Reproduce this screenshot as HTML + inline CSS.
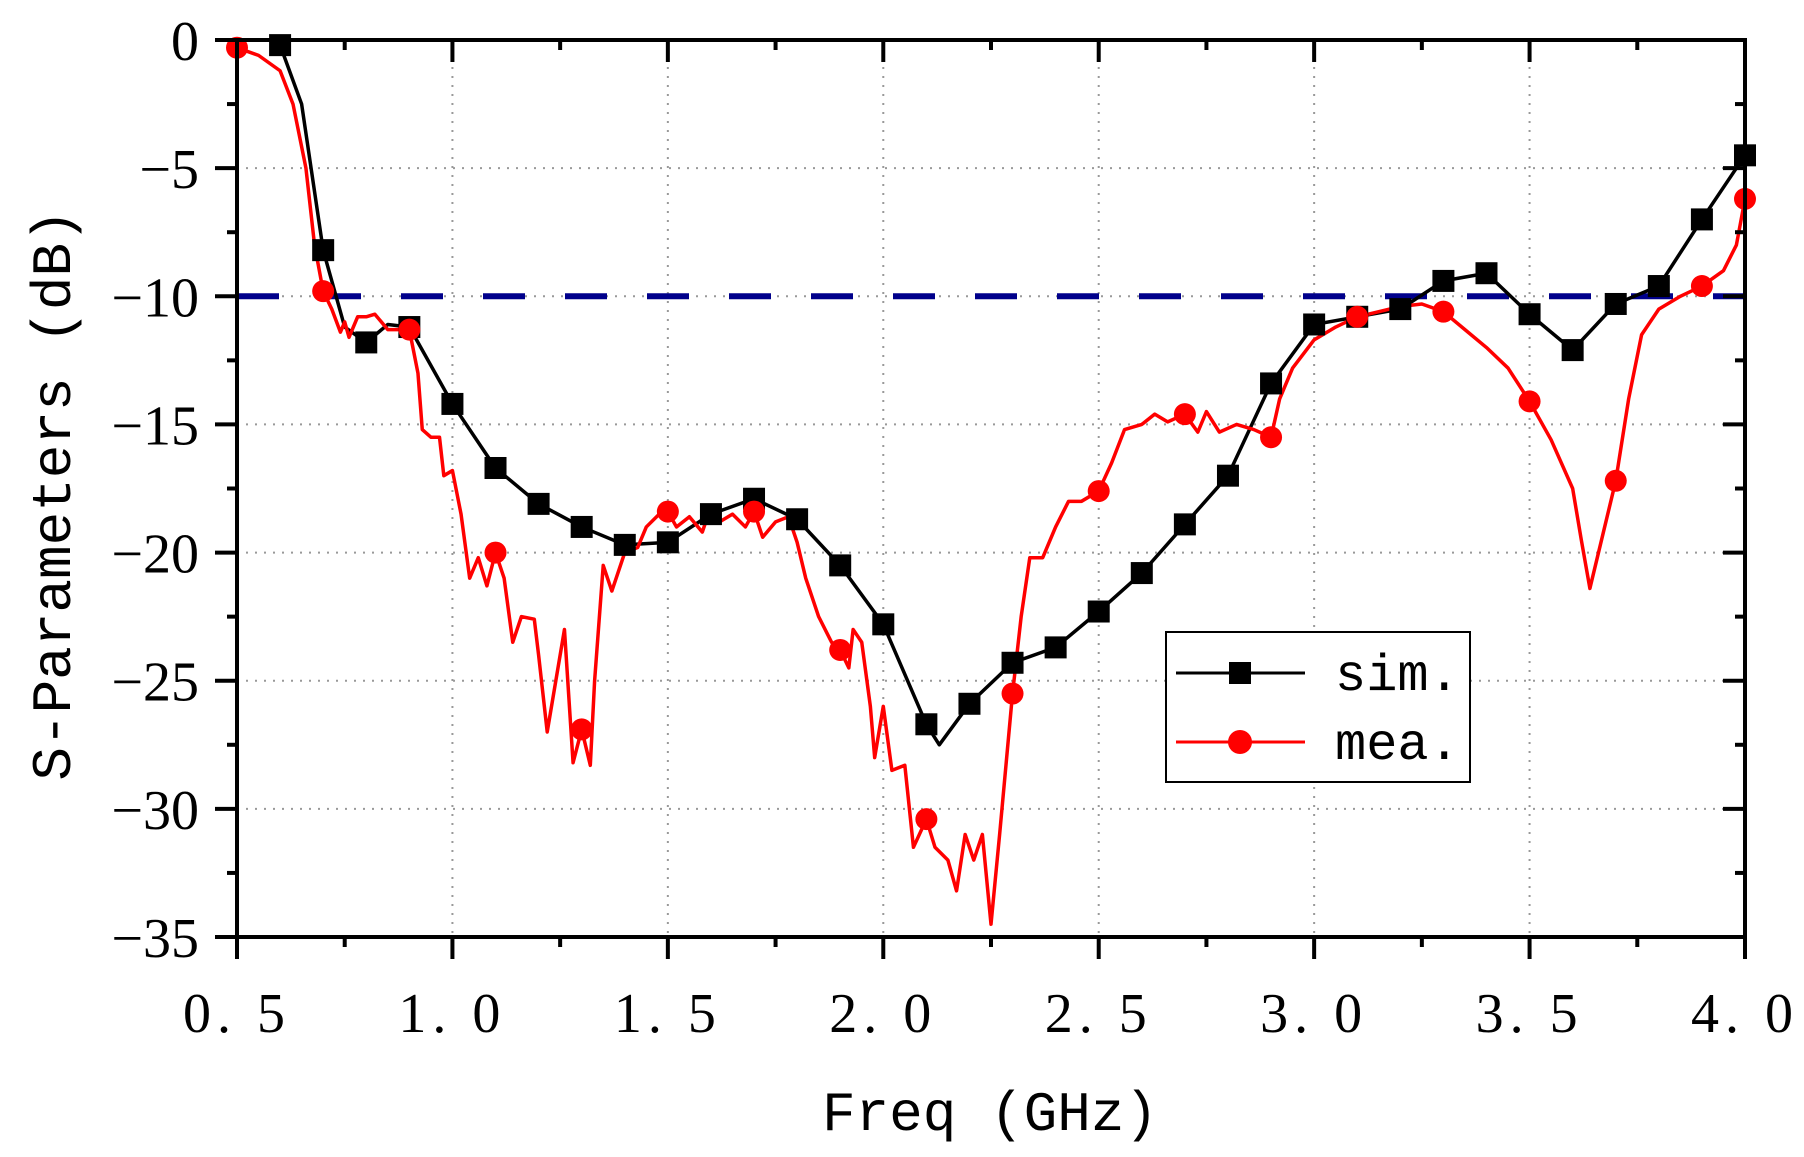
<!DOCTYPE html>
<html><head><meta charset="utf-8"><style>
html,body{margin:0;padding:0;background:#fff;}
svg{display:block;font-family:"Liberation Serif","Noto Serif CJK SC",serif;}
.mono{font-family:"Liberation Mono","Noto Serif CJK SC",monospace;}
</style></head><body>
<svg id="chart" width="1804" height="1157" viewBox="0 0 1804 1157" xmlns="http://www.w3.org/2000/svg">
<g id="grid"></g>
<line id="ref" stroke="#00008B" stroke-width="6" stroke-dasharray="42,40"/>
<g id="series"></g>
<g id="axes"></g>
<text class="mono" x="990" y="1130" font-size="56" text-anchor="middle">Freq (GHz)</text>
<text class="mono" transform="translate(70,495) rotate(-90)" font-size="56" text-anchor="middle">S-Parameters (dB)</text>
<g>
<rect x="1166" y="632" width="304" height="150" fill="#fff" stroke="#000" stroke-width="2"/>
<g>
<line x1="1176" y1="673" x2="1305" y2="673" stroke="#000" stroke-width="3"/>
<rect x="1229" y="662" width="22" height="22" fill="#000"/>
<text class="mono" x="1335" y="690" font-size="52">sim.</text></g>
<g>
<line x1="1176" y1="742" x2="1305" y2="742" stroke="#f00" stroke-width="3"/>
<circle cx="1240" cy="742" r="12" fill="#f00"/>
<text class="mono" x="1335" y="759" font-size="52">mea.</text></g>
</g>
</svg>
<script>
const xTicks=[0.5,1.0,1.5,2.0,2.5,3.0,3.5,4.0];
const yTicks=[0,-5,-10,-15,-20,-25,-30,-35];
const simMarkX=[0.6,0.7,0.8,0.9,1.0,1.1,1.2,1.3,1.4,1.5,1.6,1.7,1.8,1.9,2.0,2.1,2.2,2.3,2.4,2.5,2.6,2.7,2.8,2.9,3.0,3.1,3.2,3.3,3.4,3.5,3.6,3.7,3.8,3.9,4.0];
const simMarkY=[-0.2,-8.2,-11.8,-11.2,-14.2,-16.7,-18.1,-19.0,-19.7,-19.6,-18.5,-17.9,-18.7,-20.5,-22.8,-26.7,-25.9,-24.3,-23.7,-22.3,-20.8,-18.9,-17.0,-13.4,-11.1,-10.8,-10.5,-9.4,-9.1,-10.7,-12.1,-10.3,-9.6,-7.0,-4.5];
const simLineX=[0.6,0.65,0.7,0.75,0.8,0.85,0.9,1.0,1.1,1.2,1.3,1.4,1.5,1.6,1.7,1.8,1.9,2.0,2.1,2.13,2.2,2.3,2.4,2.5,2.6,2.7,2.8,2.9,3.0,3.1,3.2,3.3,3.4,3.5,3.6,3.7,3.8,3.9,4.0];
const simLineY=[-0.2,-2.5,-8.2,-11.2,-11.8,-11.1,-11.2,-14.2,-16.7,-18.1,-19.0,-19.7,-19.6,-18.5,-17.9,-18.7,-20.5,-22.8,-26.7,-27.5,-25.9,-24.3,-23.7,-22.3,-20.8,-18.9,-17.0,-13.4,-11.1,-10.8,-10.5,-9.4,-9.1,-10.7,-12.1,-10.3,-9.6,-7.0,-4.5];
const meaMarkX=[0.5,0.7,0.9,1.1,1.3,1.5,1.7,1.9,2.1,2.3,2.5,2.7,2.9,3.1,3.3,3.5,3.7,3.9,4.0];
const meaMarkY=[-0.3,-9.8,-11.3,-20.0,-26.9,-18.4,-18.4,-23.8,-30.4,-25.5,-17.6,-14.6,-15.5,-10.8,-10.6,-14.1,-17.2,-9.6,-6.2];
const meaLineX=[0.5,0.55,0.6,0.63,0.66,0.68,0.7,0.72,0.74,0.75,0.76,0.78,0.8,0.82,0.85,0.88,0.9,0.92,0.93,0.95,0.97,0.98,1.0,1.02,1.04,1.06,1.08,1.1,1.12,1.14,1.16,1.19,1.2,1.22,1.24,1.26,1.28,1.3,1.32,1.33,1.35,1.37,1.4,1.43,1.45,1.48,1.5,1.52,1.55,1.58,1.6,1.62,1.65,1.68,1.7,1.72,1.75,1.78,1.8,1.82,1.85,1.88,1.9,1.92,1.93,1.95,1.97,1.98,2.0,2.02,2.05,2.07,2.1,2.12,2.15,2.17,2.19,2.21,2.23,2.25,2.27,2.3,2.32,2.34,2.37,2.4,2.43,2.46,2.5,2.53,2.56,2.6,2.63,2.66,2.7,2.73,2.75,2.78,2.82,2.86,2.9,2.92,2.95,3.0,3.05,3.1,3.15,3.2,3.25,3.3,3.35,3.4,3.45,3.5,3.55,3.6,3.62,3.64,3.66,3.7,3.73,3.76,3.8,3.85,3.9,3.95,3.98,4.0];
const meaLineY=[-0.3,-0.6,-1.2,-2.5,-5,-8,-9.8,-10.5,-11.4,-11,-11.6,-10.8,-10.8,-10.7,-11.3,-11.3,-11.3,-13,-15.2,-15.5,-15.5,-17,-16.8,-18.5,-21,-20.2,-21.3,-20.0,-21,-23.5,-22.5,-22.6,-24,-27,-25,-23,-28.2,-26.9,-28.3,-25,-20.5,-21.5,-20,-19.8,-19,-18.5,-18.4,-19,-18.6,-19.2,-18.2,-18.8,-18.5,-19,-18.4,-19.4,-18.8,-18.6,-19.6,-21,-22.5,-23.5,-23.8,-24.5,-23,-23.5,-26,-28,-26,-28.5,-28.3,-31.5,-30.4,-31.5,-32,-33.2,-31,-32,-31,-34.5,-31,-25.5,-22.5,-20.2,-20.2,-19,-18,-18,-17.6,-16.5,-15.2,-15,-14.6,-14.9,-14.6,-15.3,-14.5,-15.3,-15,-15.2,-15.5,-14,-12.8,-11.7,-11.2,-10.8,-10.6,-10.4,-10.3,-10.6,-11.3,-12,-12.8,-14.1,-15.6,-17.5,-19.5,-21.4,-20,-17.2,-14,-11.5,-10.5,-10,-9.6,-9,-8,-6.2];
const refLevel=-10;

const L=237,R=1745,T=40,B=937,x0=0.5,x1=4.0,y0=-35,y1=0;
const sx=v=>L+(v-x0)/(x1-x0)*(R-L);
const sy=v=>T+(y1-v)/(y1-y0)*(B-T);
const NS='http://www.w3.org/2000/svg';
function mk(tag,attrs,parent){const e=document.createElementNS(NS,tag);for(const k in attrs)e.setAttribute(k,attrs[k]);parent.appendChild(e);return e;}
const grid=document.getElementById('grid'),axes=document.getElementById('axes'),series=document.getElementById('series');
xTicks.forEach(v=>{if(v>x0&&v<x1){const g=mk('line',{x1:sx(v),x2:sx(v),y1:T,y2:B,stroke:'#999','stroke-width':2,'stroke-dasharray':'2,7'},grid);

}});
yTicks.forEach(v=>{if(v>y0&&v<y1){const g=mk('line',{x1:L,x2:R,y1:sy(v),y2:sy(v),stroke:'#999','stroke-width':2,'stroke-dasharray':'2,7'},grid);

}});
const ref=document.getElementById('ref');
ref.setAttribute('x1',L);ref.setAttribute('x2',R);ref.setAttribute('y1',sy(refLevel));ref.setAttribute('y2',sy(refLevel));
function poly(xs,ys,color,name){const p=mk('polyline',{points:xs.map((x,i)=>sx(x)+','+sy(ys[i])).join(' '),fill:'none',stroke:color,'stroke-width':3.5,'stroke-linejoin':'round'},series);

}
poly(simLineX,simLineY,'#000','sim-line');
poly(meaLineX,meaLineY,'#f00','mea-line');
simMarkX.forEach((x,i)=>{const r=mk('rect',{x:sx(x)-11,y:sy(simMarkY[i])-11,width:22,height:22,fill:'#000'},series);

});
meaMarkX.forEach((x,i)=>{const c=mk('circle',{cx:sx(x),cy:sy(meaMarkY[i]),r:11,fill:'#f00'},series);

});
const fr=mk('rect',{x:L,y:T,width:R-L,height:B-T,fill:'none',stroke:'#000','stroke-width':4},axes);


for(let v=x0;v<=x1+1e-9;v+=0.25){const major=Math.abs(v*2-Math.round(v*2))<1e-6;const len=major?22:10;
mk('line',{x1:sx(v),x2:sx(v),y1:B,y2:B+len,stroke:'#000','stroke-width':4},axes);
mk('line',{x1:sx(v),x2:sx(v),y1:T,y2:T+len,stroke:'#000','stroke-width':4},axes);}
for(let v=y1;v>=y0-1e-9;v-=2.5){const major=Math.abs(v/5-Math.round(v/5))<1e-6;const len=major?22:10;
mk('line',{x1:L-len,x2:L,y1:sy(v),y2:sy(v),stroke:'#000','stroke-width':4},axes);
mk('line',{x1:R-len,x2:R,y1:sy(v),y2:sy(v),stroke:'#000','stroke-width':4},axes);}
xTicks.forEach(v=>{const t=mk('text',{x:sx(v),y:1032,'font-size':56,'text-anchor':'middle','letter-spacing':'6'},axes);t.textContent=v.toFixed(1).replace('.','. ');

});
yTicks.forEach(v=>{const t=mk('text',{x:L-38,y:sy(v)+20,'font-size':56,'text-anchor':'end'},axes);t.textContent=v===0?'0':'\u2212'+Math.abs(v);

});
</script>
</body></html>
